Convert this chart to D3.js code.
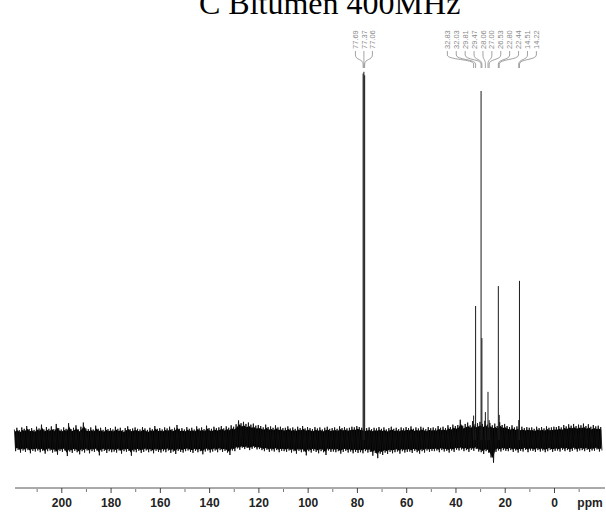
<!DOCTYPE html>
<html><head><meta charset="utf-8">
<script src="https://cdn.jsdelivr.net/npm/d3@7"></script>
<style>body{margin:0;background:#fff}svg{display:block}</style>
</head><body>
<svg id="c" width="606" height="512"></svg>
<script>
// ---- data ----
const titleSup = "13";
const titleText = "C Bitumen 400MHz";
const xTickValues = [200, 180, 160, 140, 120, 100, 80, 60, 40, 20, 0];
const xMinorTicks = [210, 190, 170, 150, 130, 110, 90, 70, 50, 30, 10, -10];
const axisUnit = "ppm";

// peaks (ppm, relative intensity; tallest = 100)
const solventPeaks = [77.69, 77.37, 77.06];
const solventInt   = [105.0, 105.5, 104.5];
const alkylPeaks = [32.83, 32.03, 29.81, 29.47, 28.06, 27.00, 26.53, 22.80, 22.44, 14.51, 14.22];
const alkylInt   = [7.0, 38.4, 100.0, 29.2, 8.0, 13.8, 5.7, 44.1, 7.2, 5.7, 45.6];
const solventLabels = ["77.69", "77.37", "77.06"];
const alkylLabels = ["32.83", "32.03", "29.81", "29.47", "28.06", "27.00", "26.53", "22.80", "22.44", "14.51", "14.22"];

// baseline noise envelope, one value per ppm from 219 down to -19
const noiseStart = 219;
const noiseHi = [
 3.0,3.5,2.8,3.6,3.2,4.0,3.1,3.4,2.9,3.8,
 3.3,4.4,3.0,3.7,3.2,3.9,3.1,4.6,3.4,3.0,
 3.6,3.2,4.8,3.1,3.5,4.2,3.0,3.8,5.0,3.3,
 3.1,3.6,3.0,4.1,3.2,3.5,2.9,3.7,3.1,3.4,
 3.0,3.8,3.2,3.5,2.8,3.4,3.9,3.1,3.3,3.6,
 3.2,3.0,3.7,3.3,2.9,3.5,3.1,4.0,3.2,3.4,
 3.0,3.6,3.3,3.8,3.1,3.5,4.3,3.2,3.4,3.0,
 3.7,3.2,3.5,3.0,3.9,3.3,3.6,3.1,4.1,3.4,
 3.2,3.8,3.4,3.6,4.0,3.3,3.9,3.5,4.2,3.8,
 4.5,5.6,4.8,5.2,4.6,5.0,4.4,4.7,4.1,4.3,
 4.0,3.6,4.4,3.7,3.9,3.5,4.2,3.6,3.8,3.4,
 3.5,3.9,3.3,3.6,3.2,3.8,3.4,4.0,3.3,3.7,
 3.4,3.1,3.7,3.3,3.6,3.0,3.5,3.8,3.2,3.4,
 3.6,3.2,3.9,3.4,3.7,3.3,3.5,3.8,3.6,4.0,
 3.7,3.5,3.2,3.4,3.6,3.1,3.5,3.3,3.7,3.2,
 3.6,3.0,3.4,3.8,3.2,3.5,3.1,3.6,3.3,3.7,
 3.4,3.9,3.2,3.6,3.3,3.8,3.5,3.1,3.7,3.4,
 3.6,3.3,4.0,3.5,3.8,3.4,4.2,3.7,4.4,4.0,
 4.3,5.8,4.1,4.6,5.0,4.2,5.4,4.5,4.8,5.2,
 4.6,5.5,4.4,4.9,4.2,4.7,4.0,5.1,4.3,4.6,
 4.0,3.7,4.2,3.6,3.9,3.5,3.8,3.4,3.7,3.5,
 3.6,3.2,3.8,3.4,3.7,3.3,3.9,3.5,3.6,3.8,
 3.7,4.0,3.6,4.3,3.9,4.5,4.1,4.6,4.0,4.4,
 4.2,4.7,4.0,4.5,3.8,4.3,3.9,4.1,3.7
];
const noiseLo = [
 -3.2,-2.8,-3.6,-3.0,-3.4,-2.9,-3.8,-3.1,-3.3,-3.0,
 -3.5,-3.1,-3.9,-3.2,-3.0,-3.6,-3.3,-4.2,-3.1,-3.4,
 -3.0,-4.6,-3.3,-3.7,-3.1,-3.5,-4.1,-3.2,-3.6,-3.0,
 -3.8,-3.2,-3.4,-3.0,-4.4,-3.3,-3.1,-3.7,-3.2,-3.5,
 -3.3,-3.6,-3.0,-3.9,-3.2,-3.4,-3.1,-4.5,-3.3,-3.5,
 -3.1,-3.7,-3.4,-3.0,-3.5,-3.2,-3.8,-3.1,-3.4,-3.6,
 -3.2,-3.5,-3.0,-3.7,-3.3,-4.0,-3.1,-3.4,-3.6,-3.2,
 -3.0,-3.4,-3.7,-3.1,-3.5,-3.2,-4.1,-3.3,-3.0,-3.6,
 -3.3,-3.0,-3.5,-2.9,-3.4,-3.1,-3.6,-4.3,-3.0,-3.2,
 -2.4,-2.8,-2.2,-2.6,-2.3,-2.9,-2.5,-2.2,-2.7,-2.6,
 -2.9,-3.2,-2.8,-3.4,-3.0,-3.3,-2.9,-3.5,-3.1,-3.2,
 -3.4,-3.0,-3.6,-3.2,-3.9,-3.1,-3.5,-3.3,-4.4,-3.2,
 -3.6,-3.1,-3.4,-3.8,-3.2,-3.5,-4.3,-3.0,-3.4,-3.3,
 -3.5,-3.2,-3.9,-3.4,-3.1,-3.6,-3.3,-3.8,-3.4,-3.7,
 -3.5,-3.8,-3.2,-3.6,-3.4,-4.5,-3.7,-5.2,-3.9,-4.3,
 -3.6,-4.0,-3.4,-3.8,-3.5,-3.3,-3.9,-3.2,-3.6,-3.4,
 -3.3,-3.7,-3.1,-3.5,-3.9,-3.2,-3.6,-3.0,-3.4,-3.1,
 -3.2,-3.0,-3.5,-2.9,-3.3,-3.1,-3.6,-3.0,-3.4,-2.8,
 -3.0,-2.7,-3.2,-2.9,-3.4,-2.8,-3.1,-2.6,-3.3,-3.5,
 -4.0,-3.2,-3.6,-5.0,-6.5,-3.4,-3.0,-3.3,-2.9,-3.1,
 -3.2,-2.9,-3.4,-3.0,-3.6,-3.1,-3.3,-2.8,-3.5,-3.0,
 -3.1,-3.4,-2.9,-3.3,-3.0,-3.5,-3.2,-2.8,-3.4,-3.1,
 -3.0,-3.3,-2.8,-3.2,-2.9,-3.4,-3.1,-2.7,-3.3,-3.0,
 -2.9,-3.2,-2.8,-3.4,-3.0,-3.1,-2.7,-3.3,-3.0
];

// ---- drawing ----
const svg = d3.select("#c");
const x = d3.scaleLinear().domain([219, -20.5]).range([15, 605]);
const y = d3.scaleLinear().domain([0, 100]).range([440, 91]);

// title (top clipped as in the reference)
const t = svg.append("text").attr("x", 199).attr("y", 14)
  .attr("font-family", "'Liberation Serif','Times New Roman',serif")
  .attr("font-size", 32).attr("fill", "#000");
t.append("tspan").attr("font-size", 20).attr("dy", -16).attr("dx", -20).text(titleSup);
t.append("tspan").attr("x", 199).attr("dy", 16).text(titleText);

// noise band: solid core between envelopes plus a fine zigzag trace for spikes
const band = noiseHi.map((h, i) => ({p: noiseStart - i, h, l: noiseLo[i]}));
svg.append("path")
  .attr("d", d3.area().x(d => x(d.p)).y0(d => y(d.l * 0.8)).y1(d => y(d.h * 0.8))(band))
  .attr("fill", "#000");
const pts = [];
band.forEach(d => {
  pts.push([d.p + 0.25, d.h]);
  pts.push([d.p - 0.25, d.l]);
});
svg.append("path")
  .attr("d", d3.line().x(d => x(d[0])).y(d => y(d[1]))(pts))
  .attr("fill", "none").attr("stroke", "#111").attr("stroke-width", 0.9);

// peaks
const peaks = solventPeaks.map((p, i) => ({p, v: solventInt[i]}))
  .concat(alkylPeaks.map((p, i) => ({p, v: alkylInt[i]})));
svg.append("g").selectAll("line").data(peaks).join("line")
  .attr("x1", d => x(d.p)).attr("x2", d => x(d.p))
  .attr("y1", y(0)).attr("y2", d => y(d.v))
  .attr("stroke", "#1a1a1a").attr("stroke-width", 1);

// peak labels with fan lines
function labelGroup(ppms, labels, spacing) {
  const xs = ppms.map(p => x(p));
  const cx = d3.mean(xs);
  const n = labels.length;
  const g = svg.append("g");
  labels.forEach((lab, i) => {
    const lx = cx + (i - (n - 1) / 2) * spacing;
    g.append("text")
      .attr("transform", `translate(${lx},49) rotate(-90)`)
      .attr("dy", "0.35em")
      .attr("font-family", "'Liberation Sans',Arial,sans-serif")
      .attr("font-size", 7.5).attr("fill", "#8a8a8a")
      .text(lab);
    const px = xs[i];
    g.append("path")
      .attr("d", `M${lx},51 L${lx},55 C${lx},60 ${px},59 ${px},64 L${px},68`)
      .attr("fill", "none").attr("stroke", "#8a8a8a").attr("stroke-width", 0.8);
  });
}
labelGroup(solventPeaks, solventLabels, 8.5);
labelGroup(alkylPeaks, alkylLabels, 8.9);

// x axis
const ay = 488;
const ax = svg.append("g");
ax.append("line").attr("x1", x(219)).attr("x2", x(-20.5)).attr("y1", ay).attr("y2", ay)
  .attr("stroke", "#555").attr("stroke-width", 1);
ax.selectAll(".maj").data(xTickValues).join("line")
  .attr("x1", d => x(d)).attr("x2", d => x(d)).attr("y1", ay).attr("y2", ay + 5)
  .attr("stroke", "#444").attr("stroke-width", 1);
ax.selectAll(".min").data(xMinorTicks).join("line")
  .attr("x1", d => x(d)).attr("x2", d => x(d)).attr("y1", ay + 1).attr("y2", ay + 4)
  .attr("stroke", "#777").attr("stroke-width", 1);
ax.selectAll("text.tl").data(xTickValues).join("text")
  .attr("x", d => x(d)).attr("y", 507).attr("text-anchor", "middle")
  .attr("font-family", "'Liberation Sans',Arial,sans-serif").attr("font-weight", "bold")
  .attr("font-size", 12).attr("fill", "#222").text(d => d);
ax.append("text").attr("x", 590).attr("y", 507).attr("text-anchor", "middle")
  .attr("font-family", "'Liberation Sans',Arial,sans-serif").attr("font-weight", "bold")
  .attr("font-size", 12).attr("fill", "#222").text(axisUnit);
</script>
</body></html>
